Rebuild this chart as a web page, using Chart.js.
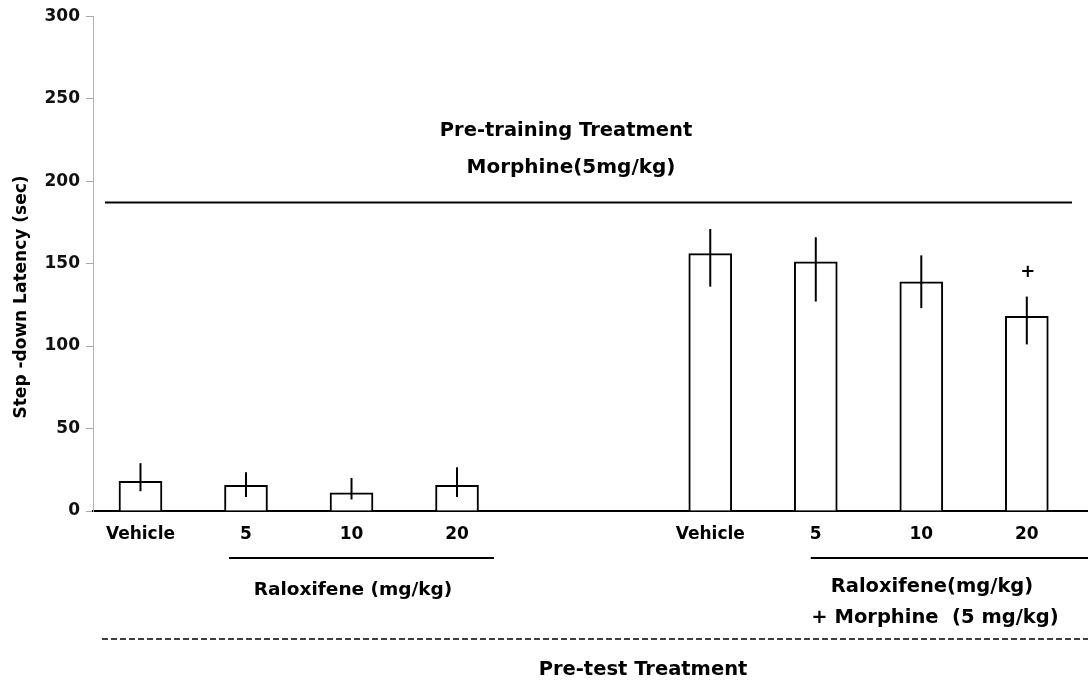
<!DOCTYPE html>
<html>
<head>
<meta charset="utf-8">
<script src="https://cdn.jsdelivr.net/npm/chart.js@4"></script>
<style>
  html, body { margin: 0; padding: 0; background: #fff; }
  #container { width: 1088px; height: 683px; }
</style>
</head>
<body>
<div id="container"><canvas id="latencyChart" width="1088" height="683"></canvas></div>
<script>
// step-down latency (sec)
const doseLabels = ['Vehicle', '5', '10', '20'];
const raloxMean = [18, 15.5, 11, 15.5];
const raloxErrTop = [29, 23.5, 20, 26.5];
const raloxErrBottom = [12, 8.5, 7, 8.5];
const comboMean = [156, 151, 139, 118];
const comboErrTop = [171, 166, 155, 130];
const comboErrBottom = [136, 127, 123, 101];
const comboMarks = ['', '', '', '+'];
const yTicks = [0, 50, 100, 150, 200, 250, 300];
const pretrainingLevel = 187; // the bracket line over the morphine groups

const FONT = '"DejaVu Sans", sans-serif';
const RIGHT_OFFSET = 5.4; // gap between the two groups, in bar slots

const leftPos = doseLabels.map((_, i) => i);
const rightPos = doseLabels.map((_, i) => i + RIGHT_OFFSET);
const xPositions = leftPos.concat(rightPos);

function txt(ctx, s, x, y, size) {
    ctx.font = 'bold ' + size + 'px ' + FONT;
    ctx.fillText(s, x, y);
}

const errorBars = {
    id: 'errorBars',
    afterDatasetsDraw(chart) {
        const ctx = chart.ctx;
        const y = chart.scales.y;
        ctx.save();
        ctx.strokeStyle = '#000';
        ctx.fillStyle = '#000';
        ctx.lineWidth = 2;
        ctx.textAlign = 'center';
        ctx.textBaseline = 'middle';
        chart.data.datasets.forEach((ds, di) => {
            chart.getDatasetMeta(di).data.forEach((bar, i) => {
                const top = y.getPixelForValue(ds.errTop[i]);
                ctx.beginPath();
                ctx.moveTo(bar.x, top);
                ctx.lineTo(bar.x, y.getPixelForValue(ds.errBottom[i]));
                ctx.stroke();
                if (ds.marks && ds.marks[i]) {
                    txt(ctx, ds.marks[i], bar.x + 1, top - 24, 18);
                }
            });
        });
        ctx.restore();
    }
};

const annotations = {
    id: 'annotations',
    afterDraw(chart) {
        const ctx = chart.ctx;
        const x = chart.scales.x, y = chart.scales.y;
        ctx.save();
        ctx.fillStyle = '#000';
        ctx.strokeStyle = '#000';
        ctx.textAlign = 'center';
        ctx.textBaseline = 'middle';

        // y axis title
        ctx.save();
        ctx.translate(22, 297);
        ctx.rotate(-Math.PI / 2);
        txt(ctx, 'Step -down Latency (sec)', 0, 0, 17);
        ctx.restore();

        // pre-training bracket
        const ly = y.getPixelForValue(pretrainingLevel);
        ctx.lineWidth = 2;
        ctx.beginPath();
        ctx.moveTo(105, ly);
        ctx.lineTo(1072, ly);
        ctx.stroke();
        txt(ctx, 'Pre-training Treatment', 566, 131, 19.5);
        txt(ctx, 'Morphine(5mg/kg)', 571, 168, 20);

        // group underlines
        const uy = 558;
        ctx.beginPath();
        ctx.moveTo(x.getPixelForValue(leftPos[1]) - 17, uy);
        ctx.lineTo(x.getPixelForValue(leftPos[3]) + 37, uy);
        ctx.moveTo(x.getPixelForValue(rightPos[1]) - 5, uy);
        ctx.lineTo(chart.width, uy);
        ctx.stroke();
        txt(ctx, 'Raloxifene (mg/kg)', 353, 590, 18.5);
        txt(ctx, 'Raloxifene(mg/kg)', 932, 587, 19.5);
        txt(ctx, '+ Morphine  (5 mg/kg)', 935, 618, 19.5);

        // pre-test divider
        ctx.lineWidth = 1.5;
        ctx.setLineDash([6, 3]);
        ctx.beginPath();
        ctx.moveTo(102, 639);
        ctx.lineTo(chart.width, 639);
        ctx.stroke();
        ctx.setLineDash([]);
        txt(ctx, 'Pre-test Treatment', 643, 670, 19.5);
        ctx.restore();
    }
};

const barStyle = {
    backgroundColor: '#fff',
    borderColor: '#000',
    borderWidth: 2,
    barThickness: 43,
    grouped: false
};

const ctx = document.getElementById('latencyChart').getContext('2d');
const chart = new Chart(ctx, {
    type: 'bar',
    data: {
        datasets: [
            Object.assign({
                label: 'Raloxifene',
                data: raloxMean.map((v, i) => ({ x: leftPos[i], y: v })),
                errTop: raloxErrTop,
                errBottom: raloxErrBottom
            }, barStyle),
            Object.assign({
                label: 'Raloxifene + Morphine',
                data: comboMean.map((v, i) => ({ x: rightPos[i], y: v })),
                errTop: comboErrTop,
                errBottom: comboErrBottom,
                marks: comboMarks
            }, barStyle)
        ]
    },
    options: {
        responsive: false,
        animation: false,
        layout: { padding: { top: 13, right: 0, bottom: 0, left: 0 } },
        plugins: {
            legend: { display: false },
            tooltip: { enabled: false }
        },
        scales: {
            x: {
                type: 'linear',
                offset: false,
                min: -0.45,
                max: 8.98,
                afterBuildTicks: axis => { axis.ticks = xPositions.map(v => ({ value: v })); },
                afterFit: axis => { axis.height = 172; },
                grid: { display: true, drawOnChartArea: false, drawTicks: false },
                border: { display: true, color: '#000', width: 2 },
                ticks: {
                    autoSkip: false,
                    maxRotation: 0,
                    padding: 13,
                    color: '#000',
                    font: { family: FONT, size: 17, weight: 'bold' },
                    callback: value => {
                        const k = xPositions.findIndex(p => Math.abs(p - value) < 1e-6);
                        return k >= 0 ? doseLabels[k % doseLabels.length] : '';
                    }
                }
            },
            y: {
                min: 0,
                max: 300,
                afterBuildTicks: axis => { axis.ticks = yTicks.map(v => ({ value: v })); },
                afterFit: axis => { axis.width = 93; },
                grid: {
                    drawOnChartArea: false,
                    drawTicks: true,
                    tickLength: 7,
                    tickColor: '#aaa'
                },
                border: { display: true, color: '#b0b0b0', width: 1 },
                ticks: {
                    padding: 6,
                    color: '#111',
                    font: { family: FONT, size: 17, weight: 'bold' }
                }
            }
        }
    },
    plugins: [errorBars, annotations]
});
</script>
</body>
</html>
